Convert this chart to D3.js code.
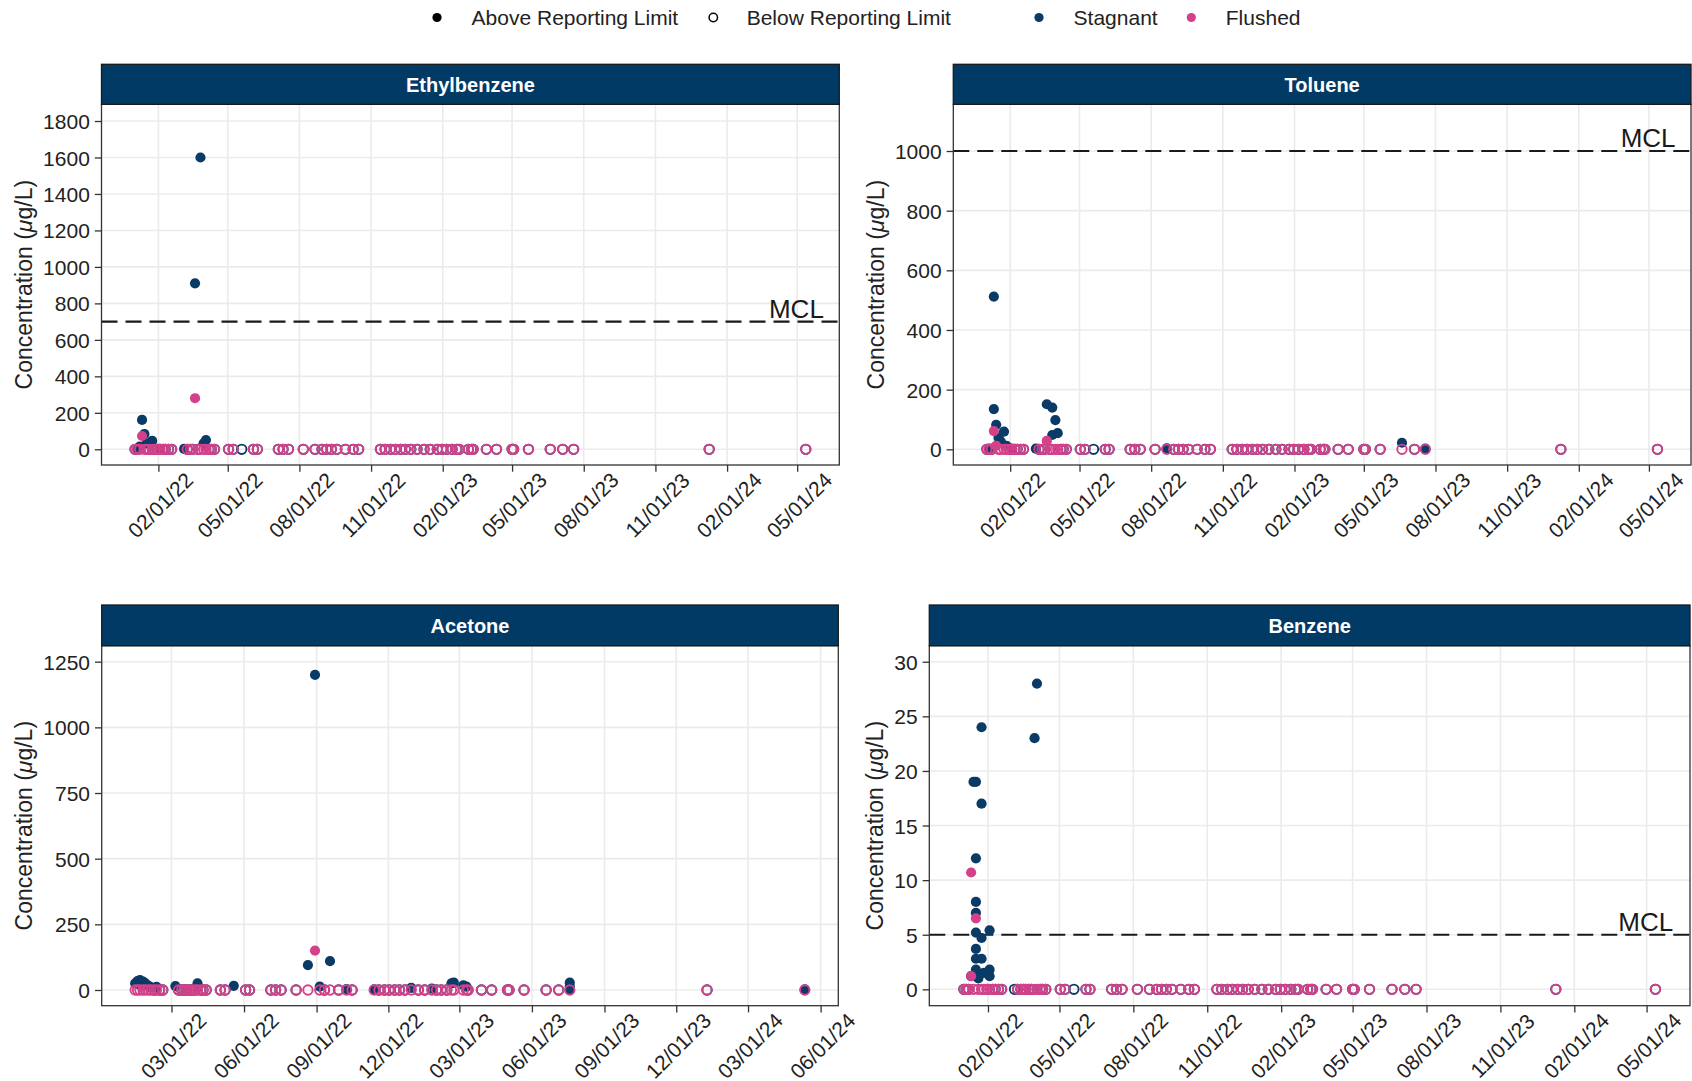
<!DOCTYPE html>
<html>
<head>
<meta charset="utf-8">
<script src="https://cdn.jsdelivr.net/npm/d3@7"></script>
<style>
  body { margin: 0; background: #fff; }
  svg { display: block; font-family: "Liberation Sans", Arial, Helvetica, sans-serif; }
</style>
</head>
<body>
<div id="chart"></div>
<script>

// sampling events (both sample types unless listed as missing)
var sampleDates = [
  "01/02/22","01/05/22","01/08/22","01/11/22","01/14/22","01/17/22","01/20/22","01/24/22",
  "01/27/22","01/31/22","02/03/22","02/07/22","02/10/22","02/14/22","02/18/22",
  "03/06/22","03/10/22","03/14/22","03/17/22","03/20/22","03/24/22","03/27/22","03/31/22",
  "04/03/22","04/07/22","04/10/22","04/14/22","05/02/22","05/08/22","05/19/22","06/03/22",
  "06/08/22","07/05/22","07/11/22","07/18/22","08/06/22","08/21/22","08/30/22","09/05/22",
  "09/11/22","09/18/22","09/29/22","10/09/22","10/16/22","11/13/22","11/19/22","11/26/22",
  "12/02/22","12/09/22","12/15/22","12/22/22","12/30/22",
  "01/08/23","01/16/23","01/25/23","01/31/23","02/06/23","02/13/23","02/19/23","02/22/23",
  "03/06/23","03/10/23","03/12/23","03/29/23","04/11/23","05/01/23","05/03/23","05/22/23",
  "06/19/23","07/05/23","07/19/23",
  "01/09/24","05/12/24"
];
var flushedMissing = ["03/06/22","05/19/22"];
var acetoneFirstDate = "01/14/22";

// detected results: [date, sample type (S = stagnant, F = flushed), ug/L]
var ethylDetects = [
  ["01/05/22","S",2],["01/08/22","S",15],["01/11/22","S",161],["01/11/22","F",73],
  ["01/14/22","S",84],["01/17/22","S",33],["01/24/22","S",46],["02/03/22","S",2],
  ["03/06/22","S",2],["03/20/22","S",910],["03/20/22","F",280],["03/27/22","S",1600],
  ["03/31/22","S",33],["04/03/22","S",51]
];
var tolueneDetects = [
  ["01/05/22","S",2],["01/11/22","S",512],["01/11/22","S",135],["01/11/22","F",61],
  ["01/14/22","S",82],["01/14/22","F",12],["01/17/22","S",39],["01/20/22","S",26],
  ["01/24/22","S",59],["01/27/22","S",12],["02/03/22","S",2],["03/06/22","S",2],
  ["03/20/22","S",151],["03/20/22","F",28],["03/27/22","S",140],["03/27/22","S",48],
  ["03/31/22","S",98],["04/03/22","S",54],["08/21/22","S",3],["06/19/23","S",22],
  ["07/19/23","S",2]
];
var acetoneDetects = [
  ["01/14/22","S",25],["01/17/22","S",34],["01/20/22","S",38],["01/20/22","S",19],
  ["01/24/22","S",32],["01/27/22","S",25],["01/31/22","S",16],["02/03/22","S",10],
  ["02/10/22","S",12],["03/06/22","S",15],["04/03/22","S",25],["05/19/22","S",16],
  ["08/21/22","S",95],["08/30/22","S",1200],["08/30/22","F",150],["09/05/22","S",13],
  ["09/18/22","S",110],["10/09/22","S",3],["11/13/22","S",2],["12/30/22","S",8],
  ["01/25/23","S",5],["02/19/23","S",25],["02/22/23","S",28],["03/06/23","S",18],
  ["03/10/23","S",13],["07/19/23","S",28],["07/19/23","S",13],["07/19/23","S",2],
  ["05/12/24","S",2]
];
var benzeneDetects = [
  ["01/11/22","F",10.7],["01/11/22","F",1.2],["01/11/22","S",1.2],["01/14/22","S",19],
  ["01/17/22","S",19],["01/17/22","S",12],["01/17/22","S",8],["01/17/22","S",7],
  ["01/17/22","F",6.5],["01/17/22","S",5.2],["01/17/22","S",3.7],["01/17/22","S",2.8],
  ["01/17/22","S",1.8],["01/20/22","S",1.0],["01/24/22","S",24],["01/24/22","S",17],
  ["01/24/22","S",4.7],["01/24/22","S",2.8],["01/27/22","S",1.5],["02/03/22","S",5.4],
  ["02/03/22","S",1.8],["02/03/22","S",1.2],["03/31/22","S",23],["04/03/22","S",28]
];

// axis ticks
var xTicksFeb = ["02/01/22","05/01/22","08/01/22","11/01/22","02/01/23","05/01/23","08/01/23","11/01/23","02/01/24","05/01/24"];
var xTicksMar = ["03/01/22","06/01/22","09/01/22","12/01/22","03/01/23","06/01/23","09/01/23","12/01/23","03/01/24","06/01/24"];
var ethylYTicks = [0,200,400,600,800,1000,1200,1400,1600,1800];
var tolueneYTicks = [0,200,400,600,800,1000];
var acetoneYTicks = [0,250,500,750,1000,1250];
var benzeneYTicks = [0,5,10,15,20,25,30];

// MCLs
var ethylMCL = 700, tolueneMCL = 1000, benzeneMCL = 5;
var mclLabelDate = "04/30/24";

var colors = { S: "#0a3a66", F: "#d4418a" };
var stripFill = "#023a66";

var parse = d3.timeParse("%m/%d/%y");

var flushedDates = sampleDates.filter(function(d) { return flushedMissing.indexOf(d) < 0; });
var acetoneDates = sampleDates.filter(function(d) { return parse(d) >= parse(acetoneFirstDate); });
var acetoneFlushed = flushedDates.filter(function(d) { return parse(d) >= parse(acetoneFirstDate); });

var panels = [
  { title: "Ethylbenzene", detects: ethylDetects, sDates: sampleDates, fDates: flushedDates,
    xTicks: xTicksFeb, yTicks: ethylYTicks, yLim: [-86.1, 1891.6], mcl: ethylMCL,
    left: 101.5, top: 104.3, width: 737.8, height: 360.7, stripTop: 64.3 },
  { title: "Toluene", detects: tolueneDetects, sDates: sampleDates, fDates: flushedDates,
    xTicks: xTicksFeb, yTicks: tolueneYTicks, yLim: [-52.6, 1156.6], mcl: tolueneMCL,
    left: 953.3, top: 104.3, width: 737.7, height: 360.7, stripTop: 64.3 },
  { title: "Acetone", detects: acetoneDetects, sDates: acetoneDates, fDates: acetoneFlushed,
    xTicks: xTicksMar, yTicks: acetoneYTicks, yLim: [-59.8, 1310.9], mcl: null,
    left: 101.7, top: 645.7, width: 736.6, height: 360, stripTop: 605 },
  { title: "Benzene", detects: benzeneDetects, sDates: sampleDates, fDates: flushedDates,
    xTicks: xTicksFeb, yTicks: benzeneYTicks, yLim: [-1.5, 31.47], mcl: benzeneMCL,
    left: 929.3, top: 645.7, width: 760.7, height: 360, stripTop: 605 }
];

//non-detects go in at 0, open symbol
var buildPoints = function(detects, sDates, fDates) {
  var pts = [];
  ["S", "F"].forEach(function(t) {
    var dates = t == "S" ? sDates : fDates;
    var hit = {};
    detects.forEach(function(d) { if (d[1] == t) hit[d[0]] = true; });
    dates.forEach(function(d) {
      if (!hit[d]) pts.push({ date: parse(d), type: t, value: 0, above: false });
    });
    detects.forEach(function(d) {
      if (d[1] == t) pts.push({ date: parse(d[0]), type: t, value: d[2], above: true });
    });
  });
  return pts;
};

var svg = d3.select("#chart").append("svg")
  .attr("width", 1692)
  .attr("height", 1081);

svg.append("rect").attr("width", 1692).attr("height", 1081).attr("fill", "#fff");

panels.forEach(function(p) {
  var pts = buildPoints(p.detects, p.sDates, p.fDates);
  var ext = d3.extent(pts, function(d) { return d.date; });
  var span = ext[1] - ext[0];
  var x = d3.scaleTime()
    .domain([new Date(+ext[0] - 0.05 * span), new Date(+ext[1] + 0.05 * span)])
    .range([p.left, p.left + p.width]);
  var y = d3.scaleLinear().domain(p.yLim).range([p.top + p.height, p.top]);
  var xt = p.xTicks.map(parse);
  var bottom = p.top + p.height;

  var g = svg.append("g");

  // grid
  g.selectAll("line.gy").data(p.yTicks).enter().append("line")
    .attr("x1", p.left).attr("x2", p.left + p.width)
    .attr("y1", function(d) { return y(d); }).attr("y2", function(d) { return y(d); })
    .attr("stroke", "#ebebeb").attr("stroke-width", 1.6);
  g.selectAll("line.gx").data(xt).enter().append("line")
    .attr("x1", function(d) { return x(d); }).attr("x2", function(d) { return x(d); })
    .attr("y1", p.top).attr("y2", bottom)
    .attr("stroke", "#ebebeb").attr("stroke-width", 1.6);

  // MCL
  if (p.mcl != null) {
    g.append("line")
      .attr("x1", p.left).attr("x2", p.left + p.width)
      .attr("y1", y(p.mcl)).attr("y2", y(p.mcl))
      .attr("stroke", "#1a1a1a").attr("stroke-width", 2.2)
      .attr("stroke-dasharray", "16,8");
    g.append("text")
      .attr("x", x(parse(mclLabelDate))).attr("y", y(p.mcl) - 4)
      .attr("text-anchor", "middle")
      .attr("font-size", 26).attr("fill", "#1a1a1a")
      .text("MCL");
  }

  // points
  g.selectAll("circle.pt").data(pts).enter().append("circle")
    .attr("cx", function(d) { return x(d.date); })
    .attr("cy", function(d) { return y(d.value); })
    .attr("r", function(d) { return d.above ? 5.1 : 4.7; })
    .attr("fill", function(d) { return d.above ? colors[d.type] : "none"; })
    .attr("stroke", function(d) { return d.above ? "none" : colors[d.type]; })
    .attr("stroke-width", 1.9);

  // border
  g.append("rect")
    .attr("x", p.left).attr("y", p.top).attr("width", p.width).attr("height", p.height)
    .attr("fill", "none").attr("stroke", "#333").attr("stroke-width", 1.3);

  // strip
  g.append("rect")
    .attr("x", p.left).attr("y", p.stripTop).attr("width", p.width).attr("height", p.top - p.stripTop)
    .attr("fill", stripFill).attr("stroke", "#1a1a1a").attr("stroke-width", 1.3);
  g.append("text")
    .attr("x", p.left + p.width / 2).attr("y", (p.stripTop + p.top) / 2)
    .attr("dy", "0.36em")
    .attr("text-anchor", "middle")
    .attr("font-size", 20).attr("font-weight", "bold").attr("fill", "#fff")
    .text(p.title);

  // y axis
  var ya = g.append("g")
    .attr("transform", "translate(" + p.left + ",0)")
    .call(d3.axisLeft(y).tickValues(p.yTicks).tickFormat(d3.format("d")).tickSize(6.7).tickPadding(5));
  ya.select(".domain").remove();
  ya.selectAll(".tick line").attr("stroke", "#333").attr("stroke-width", 1.3);
  ya.selectAll(".tick text")
    .attr("font-size", 21).attr("fill", "#222")
    .attr("font-family", "Liberation Sans, Arial, sans-serif")
    .attr("dy", "0.36em");

  var bb = ya.node().getBBox();
  var title = g.append("text")
    .attr("transform", "translate(" + (p.left + bb.x - 19) + "," + (p.top + p.height / 2) + ") rotate(-90)")
    .attr("text-anchor", "middle")
    .attr("dominant-baseline", "central")
    .attr("font-size", 23).attr("fill", "#222");
  title.append("tspan").text("Concentration (");
  title.append("tspan").attr("font-style", "italic").text("\u03bc");
  title.append("tspan").text("g/L)");

  // x axis
  var xa = g.append("g")
    .attr("transform", "translate(0," + bottom + ")")
    .call(d3.axisBottom(x).tickValues(xt).tickFormat(d3.timeFormat("%m/%d/%y")).tickSize(6.7));
  xa.select(".domain").remove();
  xa.selectAll(".tick line").attr("stroke", "#333").attr("stroke-width", 1.3);
  xa.selectAll(".tick text")
    .attr("font-size", 21).attr("fill", "#222")
    .attr("font-family", "Liberation Sans, Arial, sans-serif")
    .attr("y", 0).attr("dy", null)
    .attr("text-anchor", "middle")
    .attr("dominant-baseline", "central")
    .attr("transform", "translate(1.5,40) rotate(-45)");
});

// legend
var legendItems = [
  { label: "Above Reporting Limit", fill: "#000", stroke: "none", cx: 437, tx: 471.6 },
  { label: "Below Reporting Limit", fill: "none", stroke: "#000", cx: 713.3, tx: 746.7 },
  { label: "Stagnant", fill: colors.S, stroke: "none", cx: 1039, tx: 1073.6 },
  { label: "Flushed", fill: colors.F, stroke: "none", cx: 1191.3, tx: 1225.8 }
];
var lg = svg.append("g");
lg.selectAll("circle").data(legendItems).enter().append("circle")
  .attr("cx", function(d) { return d.cx; }).attr("cy", 17.5)
  .attr("r", function(d) { return d.stroke == "none" ? 4.6 : 4.2; })
  .attr("fill", function(d) { return d.fill; })
  .attr("stroke", function(d) { return d.stroke; })
  .attr("stroke-width", 1.5);
lg.selectAll("text").data(legendItems).enter().append("text")
  .attr("x", function(d) { return d.tx; }).attr("y", 17.5)
  .attr("dy", "0.36em")
  .attr("font-size", 21).attr("fill", "#222")
  .text(function(d) { return d.label; });

</script>
</body>
</html>
